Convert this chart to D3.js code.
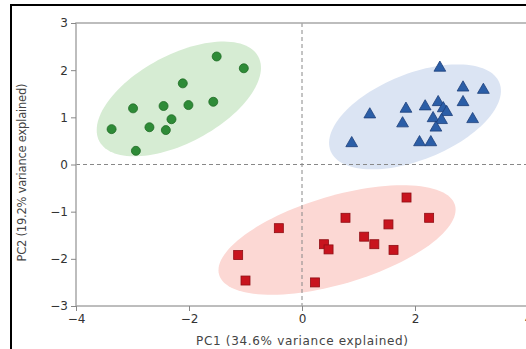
<!DOCTYPE html>
<html>
<head>
<meta charset="utf-8">
<script src="https://cdn.jsdelivr.net/npm/d3@7"></script>
<style>
  body { margin: 0; background: #fff; }
  svg { display: block; font-family: "DejaVu Sans", sans-serif; }
</style>
</head>
<body>
<svg id="myGraph" width="526" height="349"></svg>
<script>
// PCA scores, one array per group
var groupA = [ // circles, green
  [-3.37, 0.75], [-2.99, 1.19], [-2.94, 0.29], [-2.70, 0.79], [-2.45, 1.24], [-2.41, 0.73],
  [-2.31, 0.96], [-2.11, 1.72], [-2.01, 1.26], [-1.57, 1.33], [-1.51, 2.29], [-1.03, 2.04]
];
var groupB = [ // triangles, blue
  [2.44, 2.05], [2.85, 1.63], [3.21, 1.58], [2.85, 1.32], [3.02, 0.96], [1.20, 1.06],
  [1.84, 1.18], [2.18, 1.23], [2.41, 1.32], [2.50, 1.19], [2.56, 1.11], [2.32, 0.98],
  [2.47, 0.94], [2.37, 0.78], [1.78, 0.87], [2.08, 0.47], [2.28, 0.47], [0.88, 0.45]
];
var groupC = [ // squares, red
  [-0.41, -1.35], [-1.13, -1.92], [-1.00, -2.46], [0.23, -2.50], [0.39, -1.69], [0.47, -1.80],
  [0.77, -1.13], [1.10, -1.53], [1.28, -1.69], [1.53, -1.27], [1.62, -1.81], [1.85, -0.70],
  [2.25, -1.13]
];

// confidence ellipses in data units: centre and two conjugate semi-axes
var ellipseA = { cx: -2.18, cy: 1.39, ax: [1.407, 0.897], bx: [0.366, -0.823] };
var ellipseB = { cx: 2.00, cy: 1.01, ax: [1.494, 0.723], bx: [0.285, -0.846] };
var ellipseC = { cx: 0.62, cy: -1.60, ax: [2.087, 0.740], bx: [0.221, -0.895] };

var xTicks = [-4, -2, 0, 2, 4];
var yTicks = [-3, -2, -1, 0, 1, 2, 3];
var xLabel = "PC1 (34.6% variance explained)";
var yLabel = "PC2 (19.2% variance explained)";

var svg = d3.select("#myGraph");

// plot area (window.top is read-only, so no "top" here)
var pLeft = 76, pRight = 528, pTop = 23, pBottom = 306;

var x = d3.scaleLinear().domain([-4, 4]).range([pLeft, pRight]);
var y = d3.scaleLinear().domain([-3, 3]).range([pBottom, pTop]);

// outer black frame (cut off at right/bottom like the picture)
svg.append("path")
  .attr("d", "M11,360 L11,5 L540,5")
  .attr("fill", "none")
  .attr("stroke", "#000")
  .attr("stroke-width", 2);

// ellipses
function ellipsePath(e) {
  var pts = d3.range(0, 121).map(function(i) {
    var t = i / 120 * 2 * Math.PI;
    var dx = e.cx + e.ax[0] * Math.cos(t) + e.bx[0] * Math.sin(t);
    var dy = e.cy + e.ax[1] * Math.cos(t) + e.bx[1] * Math.sin(t);
    return [x(dx), y(dy)];
  });
  return d3.line()(pts) + "Z";
}
svg.append("path").attr("d", ellipsePath(ellipseA)).attr("fill", "#d6ecd3");
svg.append("path").attr("d", ellipsePath(ellipseB)).attr("fill", "#dbe4f3");
svg.append("path").attr("d", ellipsePath(ellipseC)).attr("fill", "#fcd8d4");

// zero lines
svg.append("line")
  .attr("x1", x(0)).attr("x2", x(0)).attr("y1", pTop).attr("y2", pBottom)
  .attr("stroke", "#888").attr("stroke-width", 1).attr("stroke-dasharray", "4,3");
svg.append("line")
  .attr("x1", pLeft).attr("x2", pRight).attr("y1", y(0)).attr("y2", y(0))
  .attr("stroke", "#888").attr("stroke-width", 1).attr("stroke-dasharray", "4,3");

// spines
svg.append("rect")
  .attr("x", pLeft).attr("y", pTop)
  .attr("width", pRight - pLeft).attr("height", pBottom - pTop)
  .attr("fill", "none").attr("stroke", "#a8a8a8").attr("stroke-width", 1.5);

// axes
var xAxis = svg.append("g")
  .attr("transform", "translate(0," + pBottom + ")")
  .call(d3.axisBottom(x).tickValues(xTicks).tickSize(5).tickPadding(3).tickFormat(d3.format("d")));
var yAxis = svg.append("g")
  .attr("transform", "translate(" + pLeft + ",0)")
  .call(d3.axisLeft(y).tickValues(yTicks).tickSize(5).tickPadding(3).tickFormat(d3.format("d")));
[xAxis, yAxis].forEach(function(g) {
  g.select(".domain").remove();
  g.selectAll(".tick line").attr("stroke", "#888");
  g.selectAll(".tick text")
    .attr("fill", "#333")
    .style("font-size", "12px")
    .style("font-family", "DejaVu Sans, sans-serif");
});

// points
svg.selectAll("circle.ptA")
  .data(groupA).enter().append("circle")
  .attr("class", "ptA")
  .attr("cx", function(d) { return x(d[0]); })
  .attr("cy", function(d) { return y(d[1]); })
  .attr("r", 4.5)
  .attr("fill", "#2e8b37").attr("stroke", "#1f6b25").attr("stroke-width", 0.8);

var tri = d3.symbol().type(d3.symbolTriangle).size(60);
svg.selectAll("path.ptB")
  .data(groupB).enter().append("path")
  .attr("class", "ptB")
  .attr("d", tri)
  .attr("transform", function(d) { return "translate(" + x(d[0]) + "," + y(d[1]) + ")"; })
  .attr("fill", "#2b5ea7").attr("stroke", "#1d3f7a").attr("stroke-width", 0.8);

svg.selectAll("rect.ptC")
  .data(groupC).enter().append("rect")
  .attr("class", "ptC")
  .attr("x", function(d) { return x(d[0]) - 4.5; })
  .attr("y", function(d) { return y(d[1]) - 4.5; })
  .attr("width", 9).attr("height", 9)
  .attr("fill", "#c8141e").attr("stroke", "#8f0e14").attr("stroke-width", 0.8);

// axis labels
svg.append("text")
  .attr("x", x(0)).attr("y", 345)
  .attr("text-anchor", "middle")
  .attr("fill", "#444")
  .style("font-size", "12px")
  .attr("textLength", 212)
  .text(xLabel);
svg.append("text")
  .attr("transform", "translate(26," + ((pTop + pBottom) / 2 + 8) + ") rotate(-90)")
  .attr("text-anchor", "middle")
  .attr("fill", "#444")
  .style("font-size", "11.5px")
  .attr("textLength", 178)
  .text(yLabel);
</script>
</body>
</html>
